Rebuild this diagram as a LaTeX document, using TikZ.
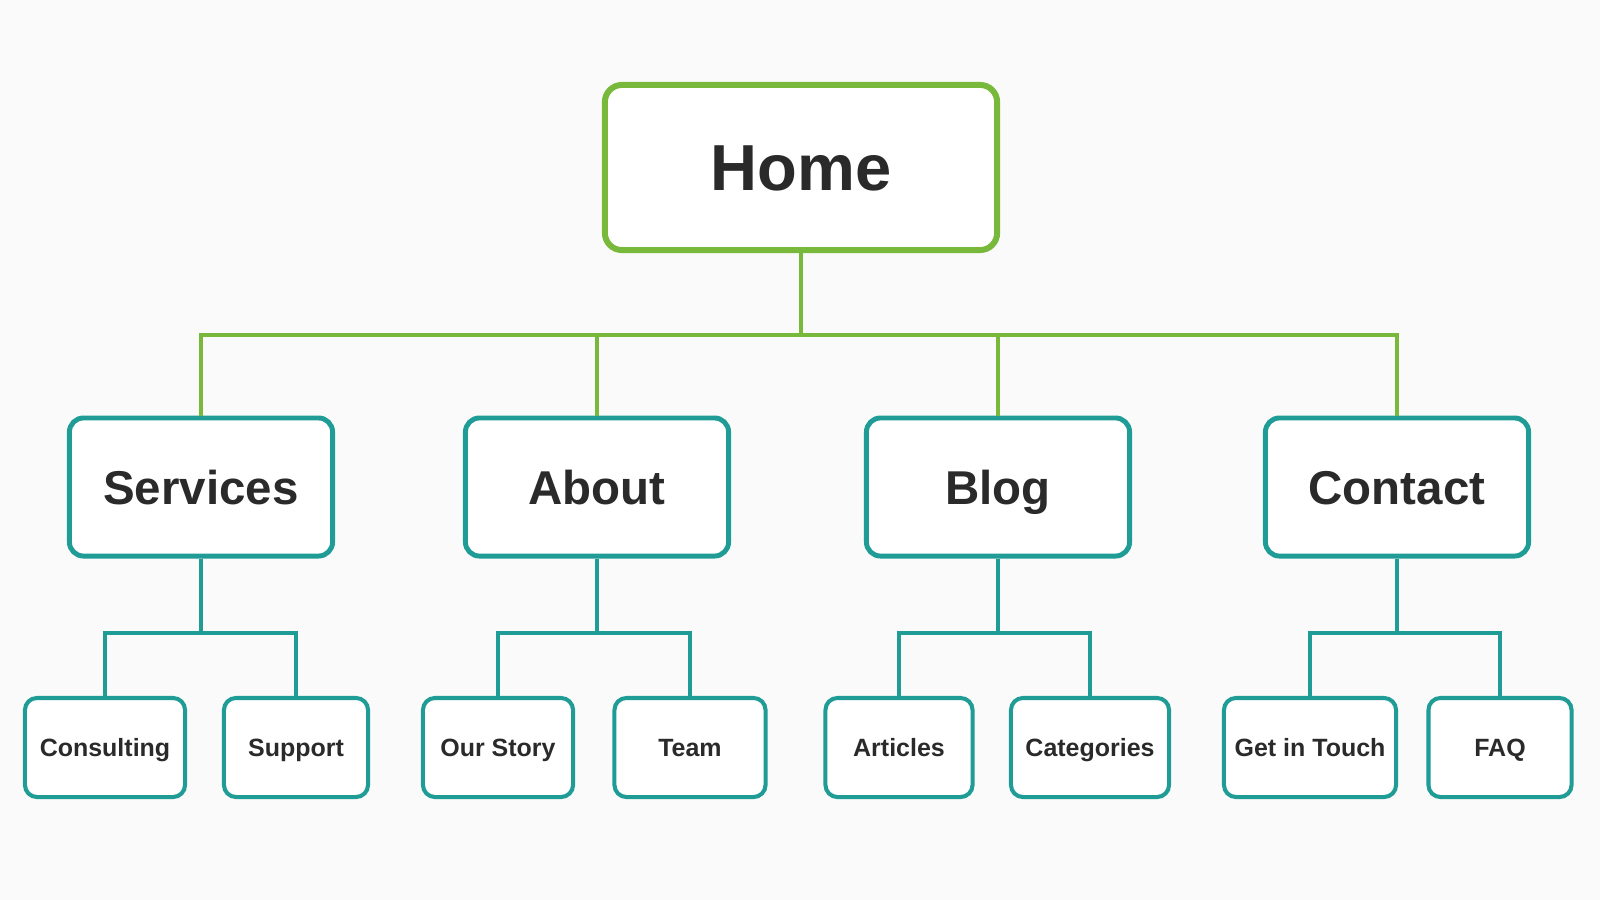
\documentclass[tikz,border=0pt]{standalone}
\usepackage{fontspec}
\setsansfont{Liberation Sans}
\definecolor{leaf}{HTML}{78B83A}
\definecolor{sea}{HTML}{1F9C96}
\definecolor{ink}{HTML}{2A2A2A}
\definecolor{paper}{HTML}{FAFAFA}
\begin{document}
\begin{tikzpicture}[x=.01cm, y=-.01cm, line join=miter, font=\sffamily\bfseries,
	box/.style={fill=white, text=ink, inner sep=0pt, text depth=0pt},
	top/.style={box, draw=leaf, line width=1.7pt, rounded corners=.17cm, text height=13.25pt,
		minimum width=3.92cm, minimum height=1.65cm, font=\sffamily\bfseries\fontsize{18.5}{20}\selectfont},
	sect/.style={box, draw=sea, line width=1.4pt, rounded corners=.14cm, text height=9.67pt,
		minimum width=2.63cm, minimum height=1.38cm, font=\sffamily\bfseries\fontsize{13.5}{15}\selectfont},
	page/.style={box, draw=sea, line width=1.15pt, rounded corners=.12cm, text height=5.08pt,
		minimum height=.99cm, font=\sffamily\bfseries\fontsize{7.1}{8}\selectfont},
	gline/.style={draw=leaf, line width=1.15pt},
	tline/.style={draw=sea, line width=1.3pt}]
	\fill[paper] (0,0) rectangle (1600,900);
	\useasboundingbox (0,0) rectangle (1600,900);

	% top level
	\node[top] (home) at (801,167.5) {Home};

	% sections
	\node[sect] (services) at (201,487) {Services};
	\node[sect] (about) at (597,487) {About};
	\node[sect] (blog) at (998,487) {Blog};
	\node[sect] (contact) at (1397,487) {Contact};

	% pages
	\node[page, minimum width=1.60cm] (consulting) at (105,747.5) {Consulting};
	\node[page, minimum width=1.44cm] (support) at (296,747.5) {Support};
	\node[page, minimum width=1.50cm] (story) at (498,747.5) {Our Story};
	\node[page, minimum width=1.51cm] (team) at (690,747.5) {Team};
	\node[page, minimum width=1.47cm] (articles) at (899,747.5) {Articles};
	\node[page, minimum width=1.58cm] (categories) at (1090,747.5) {Categories};
	\node[page, minimum width=1.72cm] (touch) at (1310,747.5) {Get in Touch};
	\node[page, minimum width=1.43cm] (faq) at (1500,747.5) {FAQ};

	% branch points
	\coordinate (hub) at (801,335);
	\coordinate (hubS) at (201,633);
	\coordinate (hubA) at (597,633);
	\coordinate (hubB) at (998,633);
	\coordinate (hubC) at (1397,633);

	\draw[gline] (home.south)--(hub)
	(services.north)|-(hub) (about.north)|-(hub)
	(blog.north)|-(hub) (contact.north)|-(hub);

	\draw[tline] (services.south)--(hubS) (consulting.north)|-(hubS) (support.north)|-(hubS)
	(about.south)--(hubA) (story.north)|-(hubA) (team.north)|-(hubA)
	(blog.south)--(hubB) (articles.north)|-(hubB) (categories.north)|-(hubB)
	(contact.south)--(hubC) (touch.north)|-(hubC) (faq.north)|-(hubC);
\end{tikzpicture}
\end{document}
